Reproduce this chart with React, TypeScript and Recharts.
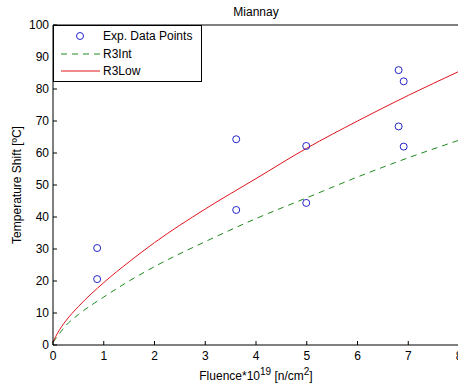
import React from "react";
import { ComposedChart, Line, Scatter, XAxis, YAxis, Legend } from "recharts";

const title = "Miannay";
const xTicks = [0, 1, 2, 3, 4, 5, 6, 7, 8];
const yTicks = [0, 10, 20, 30, 40, 50, 60, 70, 80, 90, 100];

const expX = [0.87, 0.87, 3.61, 3.61, 4.99, 4.99, 6.81, 6.91, 6.81, 6.91];
const expY = [30.3, 20.6, 64.3, 42.2, 62.2, 44.4, 85.9, 82.4, 68.3, 62.0];

const curveX = [0, 0.1, 0.25, 0.5, 1, 1.5, 2, 3, 4, 5, 6, 7, 8];
const r3IntY = [0.8, 3, 6, 9.5, 15, 20, 24.5, 32.3, 39.5, 46, 52.5, 58.5, 64];
const r3LowY = [1, 4, 7.5, 12, 19.5, 26, 32, 42.5, 52, 61.5, 70, 78, 85.5];

const expData = expX.map((x, i) => ({ x, y: expY[i] }));
const intData = curveX.map((x, i) => ({ x, y: r3IntY[i] }));
const lowData = curveX.map((x, i) => ({ x, y: r3LowY[i] }));

const FONT = "Arial, 'Liberation Sans', Helvetica, sans-serif";
const W = 470;
const H = 387;
const LEFT = 53;
const TOP = 25;
const BOTTOM = 345;
const RIGHT = 459;
const BLUE = "#2424c8";
const GREEN = "#1f8a1f";
const RED = "#e0141e";

const LeftTick = (p: any) => (
  <g>
    <line x1={LEFT} x2={LEFT + 4} y1={p.y} y2={p.y} stroke="#000" />
    <text x={LEFT - 4} y={p.y + 4.3} textAnchor="end" fontSize={12} fontFamily={FONT} fill="#000">
      {p.payload.value}
    </text>
  </g>
);
const RightTick = (p: any) => (
  <line x1={RIGHT} x2={RIGHT - 4} y1={p.y} y2={p.y} stroke="#000" />
);
const BottomTick = (p: any) => (
  <g>
    <line x1={p.x} x2={p.x} y1={BOTTOM} y2={BOTTOM - 4} stroke="#000" />
    <text x={p.x} y={BOTTOM + 14.5} textAnchor="middle" fontSize={12} fontFamily={FONT} fill="#000">
      {p.payload.value}
    </text>
  </g>
);
const TopTick = (p: any) => (
  <line x1={p.x} x2={p.x} y1={TOP} y2={TOP + 4} stroke="#000" />
);

const TitleLabel = () => (
  <text x={(LEFT + RIGHT) / 2} y={16} textAnchor="middle" fontSize={12} fontFamily={FONT} fill="#000">
    {title}
  </text>
);
const XLabel = () => (
  <text x={(LEFT + RIGHT) / 2} y={379.5} textAnchor="middle" fontSize={12} fontFamily={FONT} fill="#000">
    Fluence*10
    <tspan fontSize={10} dy={-5}>19</tspan>
    <tspan dy={5}> [n/cm</tspan>
    <tspan fontSize={10} dy={-5}>2</tspan>
    <tspan dy={5}>]</tspan>
  </text>
);
const YLabel = () => (
  <text
    x={0}
    y={0}
    transform={`translate(21, ${(TOP + BOTTOM) / 2}) rotate(-90)`}
    textAnchor="middle"
    fontSize={12}
    fontFamily={FONT}
    fill="#000"
  >
    Temperature Shift [ºC]
  </text>
);

const LegendBox = () => (
  <svg width={149} height={57} style={{ display: "block" }}>
    <rect x={0.5} y={0.5} width={148} height={56} fill="#fff" stroke="#000" />
    <circle cx={27} cy={11} r={3.5} fill="none" stroke={BLUE} />
    <text x={50} y={15.3} fontSize={12} fontFamily={FONT} fill="#000">Exp. Data Points</text>
    <line x1={8} x2={47} y1={29} y2={29} stroke={GREEN} strokeDasharray="6 5" />
    <text x={50} y={33.3} fontSize={12} fontFamily={FONT} fill="#000">R3Int</text>
    <line x1={8} x2={47} y1={46} y2={46} stroke={RED} />
    <text x={50} y={50.3} fontSize={12} fontFamily={FONT} fill="#000">R3Low</text>
  </svg>
);

const Circle = (p: any) => (
  <circle cx={p.cx} cy={p.cy} r={3.5} fill="none" stroke={BLUE} strokeWidth={1} />
);

export default function App() {
  return (
    <div style={{ position: "absolute", left: 0, top: 0, width: 458, height: 387, overflow: "hidden", background: "#fff" }}>
      <ComposedChart width={W} height={H} margin={{ top: 0, right: 0, bottom: 0, left: 0 }}>
        <XAxis
          dataKey="x"
          type="number"
          domain={[0, 8]}
          ticks={xTicks}
          interval={0}
          height={BOTTOM === 345 ? H - BOTTOM : 42}
          tickLine={false}
          tick={<BottomTick />}
          axisLine={{ stroke: "#000" }}
          label={<XLabel />}
        />
        <XAxis
          xAxisId="top"
          orientation="top"
          dataKey="x"
          type="number"
          domain={[0, 8]}
          ticks={xTicks}
          interval={0}
          height={TOP}
          tickLine={false}
          tick={<TopTick />}
          axisLine={{ stroke: "#000" }}
          label={<TitleLabel />}
        />
        <YAxis
          type="number"
          domain={[0, 100]}
          ticks={yTicks}
          interval={0}
          width={LEFT}
          tickLine={false}
          tick={<LeftTick />}
          axisLine={{ stroke: "#000" }}
          label={<YLabel />}
        />
        <YAxis
          yAxisId="right"
          orientation="right"
          type="number"
          domain={[0, 100]}
          ticks={yTicks}
          interval={0}
          width={W - RIGHT}
          tickLine={false}
          tick={<RightTick />}
          axisLine={{ stroke: "#000" }}
        />
        <Legend
          layout="horizontal"
          verticalAlign="middle"
          align="center"
          content={<LegendBox />}
          wrapperStyle={{ left: LEFT, top: TOP, width: 149, height: 57 }}
        />
        <Line
          data={intData}
          dataKey="y"
          type="monotone"
          stroke={GREEN}
          strokeWidth={1}
          strokeDasharray="6 5"
          dot={false}
          isAnimationActive={false}
          name="R3Int"
        />
        <Line
          data={lowData}
          dataKey="y"
          type="monotone"
          stroke={RED}
          strokeWidth={1}
          dot={false}
          isAnimationActive={false}
          name="R3Low"
        />
        <Scatter
          data={expData}
          dataKey="y"
          shape={<Circle />}
          isAnimationActive={false}
          name="Exp. Data Points"
        />
      </ComposedChart>
    </div>
  );
}
